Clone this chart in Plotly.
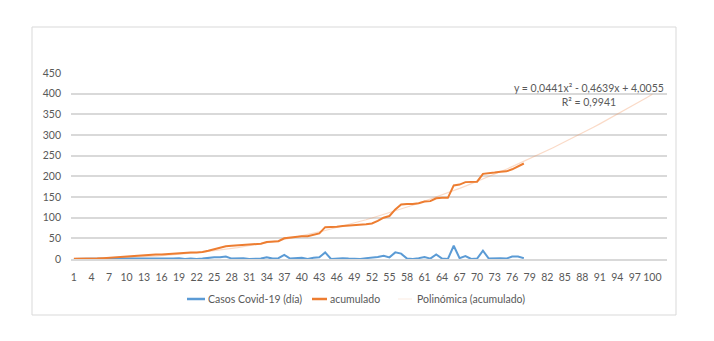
import numpy as np
import plotly.graph_objects as go

# Daily new cases and running total, by day number
days = list(range(1, 79))
casos_dia = [0, 0, 0, 0, 1, 1, 1, 2, 1, 1, 1, 1, 0, 1, 1, 0, 1, 1, 2, 0,
             1, 0, 1, 3, 4, 4, 6, 1, 1, 2, 0, 1, 1, 4, 1, 2, 10, 1, 2, 3,
             0, 3, 4, 16, 0, 1, 2, 1, 1, 0, 2, 3, 5, 8, 4, 16, 13, 1, 0, 2,
             5, 1, 11, 1, 0, 32, 2, 7, 0, 1, 20, 1, 2, 2, 1, 6, 6, 2]
acumulado = [0, 0, 0, 0, 1, 2, 3, 5, 6, 7, 8, 9, 9, 10, 11, 11, 12, 13, 15, 15,
             16, 16, 17, 20, 24, 28, 31, 32, 33, 35, 35, 36, 37, 41, 42, 43, 50, 52, 53, 55,
             55, 58, 62, 77, 77, 78, 80, 81, 82, 82, 84, 86, 92, 100, 104, 120, 132, 133, 133, 135,
             139, 140, 147, 148, 148, 178, 180, 186, 186, 187, 206, 207, 209, 211, 212, 217, 224, 231]

# Quadratic trend of the running total, projected to day 100
trend_coef = [0.0441, -0.4639, 4.0055]
trend_days = np.arange(1, 101)
trend_vals = np.polyval(trend_coef, trend_days)

x_ticks = list(range(1, 101, 3))
y_ticks = list(range(0, 451, 50))

BLUE = "#5b9bd5"
ORANGE = "#ed7d31"
GRID = "#d9d9d9"
TXT = "#595959"
FONT = "Lato, sans-serif"
FS = 10.5

W, H = 714, 341
ML, MR, MT, MB = 71, 47, 73, 82
PW, PH = W - ML - MR, H - MT - MB


def px_x(px):
    return (px - ML) / PW


def px_y(py):
    return (H - MB - py) / PH


fig = go.Figure()
fig.add_trace(go.Scatter(x=trend_days, y=trend_vals, mode="lines",
                         line=dict(color="rgba(240,150,95,0.35)", width=1.2),
                         showlegend=False, hoverinfo="skip"))
fig.add_trace(go.Scatter(x=days, y=casos_dia, mode="lines",
                         line=dict(color=BLUE, width=2), showlegend=False))
fig.add_trace(go.Scatter(x=days, y=acumulado, mode="lines",
                         line=dict(color=ORANGE, width=2), showlegend=False))

# Outer chart frame
fig.add_shape(type="rect", xref="paper", yref="paper",
              x0=px_x(32), x1=px_x(676), y0=px_y(315), y1=px_y(27),
              line=dict(color=GRID, width=1), fillcolor="rgba(0,0,0,0)", layer="below")

# Legend drawn as sample lines plus labels
legend_y = px_y(299)
for (x0, x1, color, width, label, tx) in [
    (187, 205, BLUE, 2.5, "Casos Covid-19 (día)", 206),
    (312, 327, ORANGE, 2.5, "acumulado", 328),
    (398, 412, "rgba(240,150,95,0.18)", 1, "Polinómica (acumulado)", 415),
]:
    fig.add_shape(type="line", xref="paper", yref="paper",
                  x0=px_x(x0), x1=px_x(x1), y0=legend_y, y1=legend_y,
                  line=dict(color=color, width=width))
    fig.add_annotation(xref="paper", yref="paper", x=px_x(tx), y=legend_y,
                       text=label, showarrow=False, xanchor="left", yanchor="middle",
                       font=dict(family=FONT, size=FS, color=TXT))

# Trend equation
fig.add_annotation(xref="paper", yref="paper", x=px_x(589), y=px_y(94.5),
                   text="y = 0,0441x² - 0,4639x + 4,0055<br>R² = 0,9941",
                   showarrow=False, xanchor="center", yanchor="middle", align="center",
                   font=dict(family=FONT, size=FS, color=TXT))

fig.update_layout(
    width=W, height=H,
    margin=dict(l=ML, r=MR, t=MT, b=MB, pad=0),
    paper_bgcolor="white", plot_bgcolor="white",
    font=dict(family=FONT, size=FS, color=TXT),
    xaxis=dict(range=[0.5, 102.5], tickmode="array", tickvals=x_ticks,
               ticktext=[str(v) for v in x_ticks], tickangle=0, showgrid=False, zeroline=False,
               showline=True, linecolor=GRID, linewidth=1.5, ticks="",
               ticklabelstandoff=8, tickfont=dict(family=FONT, size=FS, color=TXT)),
    yaxis=dict(range=[0, 450], tickmode="array", tickvals=y_ticks, showgrid=True,
               gridcolor=GRID, gridwidth=1.5, zeroline=False, showline=False, ticks="",
               ticklabelstandoff=9, tickfont=dict(family=FONT, size=FS, color=TXT)),
)

fig.write_html("out.html")
